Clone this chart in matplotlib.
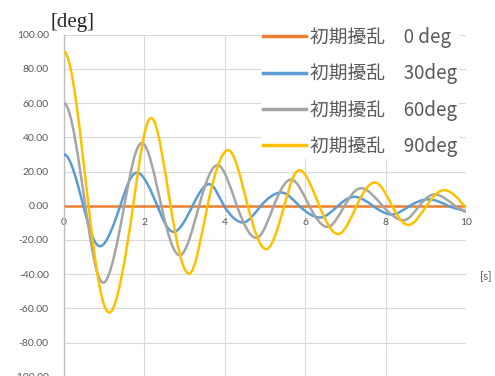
import numpy as np
import matplotlib
matplotlib.use('Agg')
import matplotlib.pyplot as plt
from matplotlib.path import Path
from matplotlib.patches import PathPatch
from matplotlib.lines import Line2D

# pendulum response for each initial disturbance [s], [deg]
# (peaks, troughs and zero crossings)
t0 = [0.0, 10.0]
v0 = [0.0, 0.0]

t30 = [0, 0.48, 0.90, 1.40, 1.82, 2.32, 2.73, 3.20, 3.61, 3.98, 4.45, 4.90,
       5.40, 5.85, 6.36, 6.82, 7.23, 7.68, 8.15, 8.61, 9.07, 9.55, 10.0]
v30 = [30, 0, -23.7, 0, 19.4, 0, -15.3, 0, 12.6, 0, -9.8, 0,
       7.7, 0, -6.9, 0, 5.2, 0, -5.1, 0, 3.7, 0, -3.6]

t60 = [0, 0.53, 0.98, 1.50, 1.94, 2.42, 2.88, 3.36, 3.82, 4.30, 4.78, 5.22,
       5.65, 6.10, 6.55, 6.98, 7.40, 7.92, 8.44, 8.84, 9.23, 9.72, 10.0]
v60 = [60, 0, -45.0, 0, 36.7, 0, -29.0, 0, 23.7, 0, -18.8, 0,
       15.3, 0, -12.4, 0, 10.2, 0, -8.5, 0, 6.6, 0, -3.5]

t90 = [0, 0.61, 1.13, 1.72, 2.17, 2.65, 3.11, 3.57, 4.08, 4.57, 5.03, 5.48,
       5.86, 6.35, 6.82, 7.28, 7.73, 8.16, 8.57, 9.02, 9.48, 10.0]
v90 = [90, 0, -62.5, 0, 51.3, 0, -39.7, 0, 32.5, 0, -25.4, 0,
       20.8, 0, -16.6, 0, 13.6, 0, -11.3, 0, 9.1, -1.5]

labels = ['初期擾乱\u30000 deg', '初期擾乱\u300030deg',
          '初期擾乱\u300060deg', '初期擾乱\u300090deg']
colors = ['#ED7D31', '#5B9BD5', '#A5A5A5', '#FFC000']

xticks = [0, 2, 4, 6, 8, 10]
yticks = [-100, -80, -60, -40, -20, 0, 20, 40, 60, 80, 100]


def smooth_curve(t, v, kv=1.5):
    # spline through the points as cubic bezier segments,
    # the vertical part of each tangent is stretched by kv
    p = np.column_stack([t, v]).astype(float)
    n = len(p)
    first = np.array([2 * p[0, 0] - p[1, 0], p[1, 1]])  # start at rest
    last = 2 * p[-1] - p[-2]
    ext = np.vstack([first, p, last])
    scale = np.array([1.0, kv])
    verts = [p[0]]
    codes = [Path.MOVETO]
    for i in range(1, n):
        a, b, c, d = ext[i - 1], ext[i], ext[i + 1], ext[i + 2]
        verts += [b + scale * (c - a) / 6, c - scale * (d - b) / 6, c]
        codes += [Path.CURVE4] * 3
    return Path(verts, codes)


fig = plt.figure(figsize=(4.95, 3.76), dpi=100)
ax = fig.add_axes([64 / 495, -0.7 / 376, 402 / 495, 342 / 376])

ax.plot(t0, v0, color=colors[0], lw=1.8, solid_capstyle='butt', zorder=3)
for t, v, c in zip([t30, t60, t90], [v30, v60, v90], colors[1:]):
    ax.add_patch(PathPatch(smooth_curve(t, v), fill=False, edgecolor=c,
                           lw=1.8, zorder=3))

ax.set_xlim(0, 10)
ax.set_ylim(-100, 100)
ax.set_xticks(xticks)
ax.set_yticks(yticks)
ax.set_yticklabels(['%.2f' % y for y in yticks])
ax.grid(True, color='#d9d9d9', lw=0.8)
ax.set_axisbelow(True)

for s in ['top', 'right']:
    ax.spines[s].set_visible(False)
ax.spines['bottom'].set_position(('data', 0))
ax.spines['bottom'].set_visible(False)
ax.spines['left'].set_color('#bfbfbf')
ax.spines['left'].set_linewidth(1)

ax.tick_params(axis='both', length=0, labelsize=7.5, labelcolor='#595959')
ax.tick_params(axis='y', pad=11)
ax.tick_params(axis='x', pad=9)
for lab in ax.get_xticklabels() + ax.get_yticklabels():
    lab.set_fontfamily('Lato')

handles = [Line2D([], [], color=c, lw=2.5) for c in colors]
leg = ax.legend(handles, labels, loc='upper left',
                bbox_to_anchor=(261 / 495, 1 - 25 / 376),
                bbox_transform=fig.transFigure, borderaxespad=0,
                prop={'family': ['Noto Sans CJK JP', 'DejaVu Sans'], 'size': 13.5},
                handlelength=2.3, handletextpad=0.2, labelspacing=0.82,
                borderpad=0.1, frameon=True, fancybox=False)
leg.get_frame().set_facecolor('white')
leg.get_frame().set_edgecolor('none')
leg.get_frame().set_alpha(1)
for txt in leg.get_texts():
    txt.set_color('#595959')

fig.text(73 / 495, 1 - 23 / 376, '[deg]', ha='center', va='center',
         family='Liberation Serif', fontsize=15, color='#262626')
fig.text(486 / 495, 1 - 277 / 376, '[s]', ha='center', va='center',
         family='Lato', fontsize=8, color='#595959')

fig.savefig('out.png', dpi=100)
